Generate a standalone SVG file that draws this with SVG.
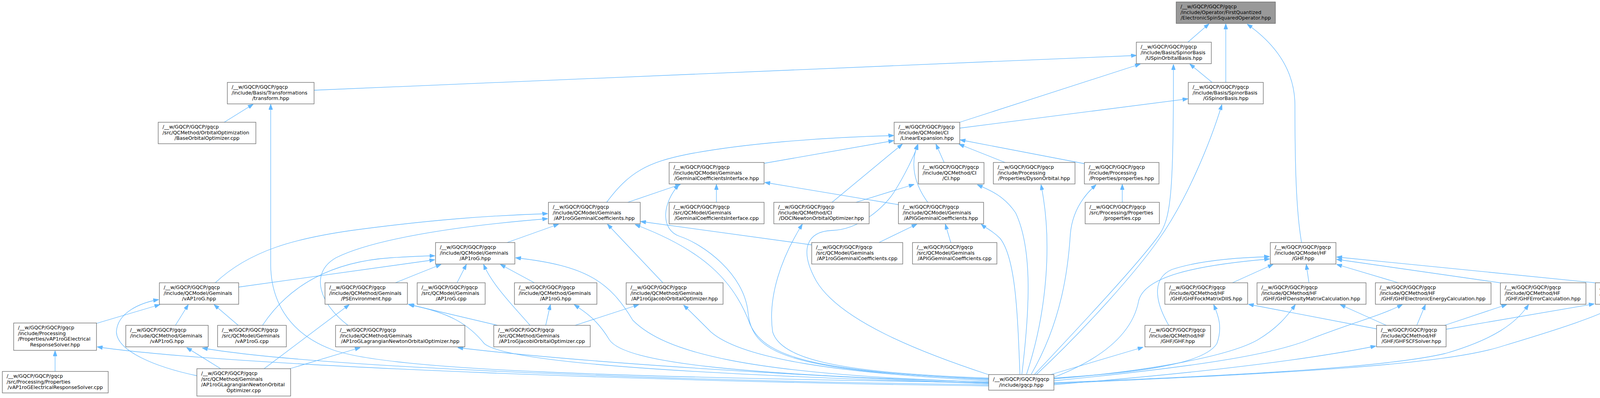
<svg xmlns="http://www.w3.org/2000/svg" width="4348" height="1019" viewBox="0 0 4348 1019">
<defs>
<style>
.nd rect{fill:#ffffff;stroke:#666666;stroke-width:1.3}
.root rect{fill:#999999;stroke:#666666;stroke-width:1.3}
text{font-family:"DejaVu Sans","Liberation Sans",sans-serif;font-size:12.7px;fill:#000000}
.c{text-anchor:middle}
#edges path{fill:none;stroke:#63b8ff;stroke-width:1.3;marker-end:url(#ah)}
</style>
<marker id="ah" viewBox="0 0 14 10" refX="13.5" refY="5" markerWidth="14" markerHeight="10" markerUnits="userSpaceOnUse" orient="auto">
<path d="M0,0 L14,5 L0,10 z" fill="#63b8ff" stroke="#63b8ff" stroke-width="1"/>
</marker>
</defs>
<rect x="0" y="0" width="4348" height="1019" fill="#ffffff"/>
<g id="edges">
<path d="M3041,108 L3095,61"/>
<path d="M3138,211 L3138,61"/>
<path d="M3332,621 C3318,540 3315,420 3315,270 C3315,190 3275,120 3193,62"/>
<path d="M804,231 L2909,142"/>
<path d="M574,313 L648,267"/>
<path d="M2457,313 L2919,164"/>
<path d="M3103,211 L3046,164"/>
<path d="M2648,959 C2760,840 2910,680 2965,605 C2998,560 3004,500 3004,165"/>
<path d="M2457,328 L3041,253"/>
<path d="M2653,959 C2780,840 2905,700 2965,615 C3040,510 3100,360 3128,268"/>
<path d="M1957,418 L2288,360"/>
<path d="M1553,518 C1610,440 1660,415 1760,395 C1900,368 2100,352 2288,347"/>
<path d="M1607,518 L1742,472"/>
<path d="M1834,518 L1834,472"/>
<path d="M2300,524 L1958,467"/>
<path d="M2531,970 C2000,950 1925,900 1915,800 C1905,700 1800,625 1740,605 C1690,588 1695,520 1738,473"/>
<path d="M2417,416 L2396,369"/>
<path d="M2573,416 L2455,369"/>
<path d="M2776,419 L2458,358"/>
<path d="M2130,518 L2310,369"/>
<path d="M2375,518 C2340,470 2330,420 2349,370"/>
<path d="M2533,960 C2350,900 2150,820 2090,720 C2045,640 2065,592 2130,590 C2200,588 2265,530 2290,490 C2315,450 2340,400 2350,370"/>
<path d="M2191,518 L2340,472"/>
<path d="M2616,958 C2635,800 2645,640 2600,545 C2570,500 2530,485 2502,473"/>
<path d="M2628,958 C2680,800 2695,620 2665,473"/>
<path d="M2640,958 C2720,820 2735,680 2740,600 C2745,540 2775,500 2806,473"/>
<path d="M2873,518 L2873,472"/>
<path d="M1298,621 L1430,574"/>
<path d="M2078,627 L1640,567"/>
<path d="M2250,621 L2347,574"/>
<path d="M2434,621 L2420,574"/>
<path d="M2611,958 C2605,800 2600,660 2560,610 C2540,590 2525,585 2512,574"/>
<path d="M2531,972 C2100,950 1960,920 1920,830 C1880,720 1800,640 1626,575"/>
<path d="M2531,968 C2150,955 2000,920 1978,850 C1965,760 2000,660 2054,574"/>
<path d="M551,724 C640,640 760,610 900,590 C1100,563 1250,552 1402,547"/>
<path d="M891,833 C820,780 790,700 860,660 C950,615 1150,580 1402,560"/>
<path d="M1697,724 L1555,574"/>
<path d="M1012,724 L1129,677"/>
<path d="M1170,724 L1194,677"/>
<path d="M1368,724 L1281,677"/>
<path d="M1357,833 C1320,790 1260,730 1238,677"/>
<path d="M611,735 L1113,665"/>
<path d="M672,833 C740,730 850,670 1000,660 C1050,657 1090,655 1113,655"/>
<path d="M2531,978 C1900,960 1700,900 1620,820 C1560,720 1500,680 1320,660"/>
<path d="M1274,833 L1045,779"/>
<path d="M2531,982 C1800,960 1300,930 1240,880 C1200,830 1150,800 1047,780"/>
<path d="M1397,833 L1409,780"/>
<path d="M2531,978 C1900,960 1600,930 1560,870 C1530,820 1500,800 1470,780"/>
<path d="M1472,833 L1635,780"/>
<path d="M2531,975 C2150,955 1900,920 1820,850 C1790,820 1770,800 1750,781"/>
<path d="M449,833 L482,780"/>
<path d="M610,833 L548,780"/>
<path d="M247,828 L409,780"/>
<path d="M504,962 C400,940 300,900 298,850 C300,800 360,775 406,767"/>
<path d="M141,951 L141,898"/>
<path d="M565,944 L478,890"/>
<path d="M676,944 L894,780"/>
<path d="M742,944 L922,890"/>
<path d="M2531,988 C1800,980 600,940 249,888"/>
<path d="M2531,985 C1700,975 800,940 518,891"/>
<path d="M2531,982 C2100,965 1500,930 1172,890"/>
<path d="M2531,980 C1600,965 1000,950 850,895 C730,850 694,760 693,680 L693,267"/>
<path d="M2690,959 L2926,889"/>
<path d="M2992,833 C2950,760 2955,710 3000,690 C3060,670 3150,660 3250,657"/>
<path d="M2698,966 C2830,915 2900,850 2915,770 C2930,710 3050,680 3250,663"/>
<path d="M3155,724 L3259,677"/>
<path d="M3351,724 L3344,677"/>
<path d="M3580,724 L3422,677"/>
<path d="M3840,724 L3422,664"/>
<path d="M4083,724 L3422,658"/>
<path d="M2698,968 C2900,955 3080,935 3115,880 C3130,840 3120,810 3107,780"/>
<path d="M2698,970 C2950,950 3150,910 3220,870 C3270,840 3295,810 3316,780"/>
<path d="M2698,975 C3050,940 3250,910 3350,870 C3450,830 3530,810 3590,780"/>
<path d="M2698,980 C3200,960 3550,940 3700,905 C3820,870 3880,830 3913,780"/>
<path d="M2698,982 C3300,955 3700,935 3850,885 C4000,840 4090,810 4145,780"/>
<path d="M2698,985 C3000,960 3300,930 3522,886"/>
<path d="M3524,842 L3196,779"/>
<path d="M3549,833 L3431,780"/>
<path d="M3627,833 L3649,780"/>
<path d="M3698,833 L3857,780"/>
<path d="M3702,843 L4081,778"/>
</g>
<g id="n0" class="root"><rect x="3011" y="5" width="254" height="55"/><text x="3022" y="21">/__w/GQCP/GQCP/gqcp</text><text x="3022" y="35.6">/include/Operator/FirstQuantized</text><text class="c" x="3138" y="50.2">/ElectronicSpinSquaredOperator.hpp</text></g>
<g id="n1" class="nd"><rect x="2909" y="108" width="192" height="55"/><text x="2920" y="124">/__w/GQCP/GQCP/gqcp</text><text x="2920" y="138.6">/include/Basis/SpinorBasis</text><text class="c" x="3005" y="153.2">/USpinOrbitalBasis.hpp</text></g>
<g id="n2" class="nd"><rect x="3042" y="211" width="192" height="55"/><text x="3053" y="227">/__w/GQCP/GQCP/gqcp</text><text x="3053" y="241.6">/include/Basis/SpinorBasis</text><text class="c" x="3138" y="256.2">/GSpinorBasis.hpp</text></g>
<g id="n3" class="nd"><rect x="582" y="211" width="222" height="55"/><text x="593" y="227">/__w/GQCP/GQCP/gqcp</text><text x="593" y="241.6">/include/Basis/Transformations</text><text class="c" x="693" y="256.2">/transform.hpp</text></g>
<g id="n4" class="nd"><rect x="405" y="313" width="250" height="55"/><text x="416" y="329">/__w/GQCP/GQCP/gqcp</text><text x="416" y="343.6">/src/QCMethod/OrbitalOptimization</text><text class="c" x="530" y="358.2">/BaseOrbitalOptimizer.cpp</text></g>
<g id="n5" class="nd"><rect x="2289" y="313" width="168" height="55"/><text x="2300" y="329">/__w/GQCP/GQCP/gqcp</text><text x="2300" y="343.6">/include/QCModel/CI</text><text class="c" x="2373" y="358.2">/LinearExpansion.hpp</text></g>
<g id="n6" class="nd"><rect x="1713" y="416" width="243" height="55"/><text x="1724" y="432">/__w/GQCP/GQCP/gqcp</text><text x="1724" y="446.6">/include/QCModel/Geminals</text><text class="c" x="1834.5" y="461.2">/GeminalCoefficientsInterface.hpp</text></g>
<g id="n7" class="nd"><rect x="2351" y="416" width="168" height="55"/><text x="2362" y="432">/__w/GQCP/GQCP/gqcp</text><text x="2362" y="446.6">/include/QCMethod/CI</text><text class="c" x="2435" y="461.2">/CI.hpp</text></g>
<g id="n8" class="nd"><rect x="2543" y="416" width="209" height="55"/><text x="2554" y="432">/__w/GQCP/GQCP/gqcp</text><text x="2554" y="446.6">/include/Processing</text><text class="c" x="2647.5" y="461.2">/Properties/DysonOrbital.hpp</text></g>
<g id="n9" class="nd"><rect x="2776" y="416" width="191" height="55"/><text x="2787" y="432">/__w/GQCP/GQCP/gqcp</text><text x="2787" y="446.6">/include/Processing</text><text class="c" x="2871.5" y="461.2">/Properties/properties.hpp</text></g>
<g id="n10" class="nd"><rect x="1404" y="518" width="235" height="55"/><text x="1415" y="534">/__w/GQCP/GQCP/gqcp</text><text x="1415" y="548.6">/include/QCModel/Geminals</text><text class="c" x="1521.5" y="563.2">/AP1roGGeminalCoefficients.hpp</text></g>
<g id="n11" class="nd"><rect x="1713" y="518" width="243" height="55"/><text x="1724" y="534">/__w/GQCP/GQCP/gqcp</text><text x="1724" y="548.6">/src/QCModel/Geminals</text><text class="c" x="1834.5" y="563.2">/GeminalCoefficientsInterface.cpp</text></g>
<g id="n12" class="nd"><rect x="1981" y="518" width="244" height="55"/><text x="1992" y="534">/__w/GQCP/GQCP/gqcp</text><text x="1992" y="548.6">/include/QCMethod/CI</text><text class="c" x="2103" y="563.2">/DOCINewtonOrbitalOptimizer.hpp</text></g>
<g id="n13" class="nd"><rect x="2300" y="518" width="218" height="55"/><text x="2311" y="534">/__w/GQCP/GQCP/gqcp</text><text x="2311" y="548.6">/include/QCModel/Geminals</text><text class="c" x="2409" y="563.2">/APIGGeminalCoefficients.hpp</text></g>
<g id="n14" class="nd"><rect x="2778" y="518" width="190" height="55"/><text x="2789" y="534">/__w/GQCP/GQCP/gqcp</text><text x="2789" y="548.6">/src/Processing/Properties</text><text class="c" x="2873" y="563.2">/properties.cpp</text></g>
<g id="n15" class="nd"><rect x="1115" y="621" width="203" height="55"/><text x="1126" y="637">/__w/GQCP/GQCP/gqcp</text><text x="1126" y="651.6">/include/QCModel/Geminals</text><text class="c" x="1216.5" y="666.2">/AP1roG.hpp</text></g>
<g id="n16" class="nd"><rect x="2078" y="621" width="233" height="55"/><text x="2089" y="637">/__w/GQCP/GQCP/gqcp</text><text x="2089" y="651.6">/src/QCModel/Geminals</text><text class="c" x="2194.5" y="666.2">/AP1roGGeminalCoefficients.cpp</text></g>
<g id="n17" class="nd"><rect x="2336" y="621" width="216" height="55"/><text x="2347" y="637">/__w/GQCP/GQCP/gqcp</text><text x="2347" y="651.6">/src/QCModel/Geminals</text><text class="c" x="2444" y="666.2">/APIGGeminalCoefficients.cpp</text></g>
<g id="n18" class="nd"><rect x="3252" y="621" width="168" height="55"/><text x="3263" y="637">/__w/GQCP/GQCP/gqcp</text><text x="3263" y="651.6">/include/QCModel/HF</text><text class="c" x="3336" y="666.2">/GHF.hpp</text></g>
<g id="n19" class="nd"><rect x="408" y="724" width="203" height="55"/><text x="419" y="740">/__w/GQCP/GQCP/gqcp</text><text x="419" y="754.6">/include/QCModel/Geminals</text><text class="c" x="509.5" y="769.2">/vAP1roG.hpp</text></g>
<g id="n20" class="nd"><rect x="832" y="724" width="211" height="55"/><text x="843" y="740">/__w/GQCP/GQCP/gqcp</text><text x="843" y="754.6">/include/QCMethod/Geminals</text><text class="c" x="937.5" y="769.2">/PSEnvironment.hpp</text></g>
<g id="n21" class="nd"><rect x="1068" y="724" width="174" height="55"/><text x="1079" y="740">/__w/GQCP/GQCP/gqcp</text><text x="1079" y="754.6">/src/QCModel/Geminals</text><text class="c" x="1155" y="769.2">/AP1roG.cpp</text></g>
<g id="n22" class="nd"><rect x="1317" y="724" width="211" height="55"/><text x="1328" y="740">/__w/GQCP/GQCP/gqcp</text><text x="1328" y="754.6">/include/QCMethod/Geminals</text><text class="c" x="1422.5" y="769.2">/AP1roG.hpp</text></g>
<g id="n23" class="nd"><rect x="1603" y="724" width="248" height="55"/><text x="1614" y="740">/__w/GQCP/GQCP/gqcp</text><text x="1614" y="754.6">/include/QCMethod/Geminals</text><text class="c" x="1727" y="769.2">/AP1roGJacobiOrbitalOptimizer.hpp</text></g>
<g id="n24" class="nd"><rect x="2982" y="724" width="212" height="55"/><text x="2993" y="740">/__w/GQCP/GQCP/gqcp</text><text x="2993" y="754.6">/include/QCMethod/HF</text><text class="c" x="3088" y="769.2">/GHF/GHFFockMatrixDIIS.hpp</text></g>
<g id="n25" class="nd"><rect x="3218" y="724" width="279" height="55"/><text x="3229" y="740">/__w/GQCP/GQCP/gqcp</text><text x="3229" y="754.6">/include/QCMethod/HF</text><text class="c" x="3357.5" y="769.2">/GHF/GHFDensityMatrixCalculation.hpp</text></g>
<g id="n26" class="nd"><rect x="3521" y="724" width="296" height="55"/><text x="3532" y="740">/__w/GQCP/GQCP/gqcp</text><text x="3532" y="754.6">/include/QCMethod/HF</text><text class="c" x="3669" y="769.2">/GHF/GHFElectronicEnergyCalculation.hpp</text></g>
<g id="n27" class="nd"><rect x="3841" y="724" width="219" height="55"/><text x="3852" y="740">/__w/GQCP/GQCP/gqcp</text><text x="3852" y="754.6">/include/QCMethod/HF</text><text class="c" x="3950.5" y="769.2">/GHF/GHFErrorCalculation.hpp</text></g>
<g id="n28" class="nd"><rect x="4084" y="724" width="258" height="55"/><text x="4095" y="740">/__w/GQCP/GQCP/gqcp</text><text x="4095" y="754.6">/include/QCMethod/HF</text><text class="c" x="4213" y="769.2">/GHF/GHFFockMatrixCalculation.hpp</text></g>
<g id="n29" class="nd"><rect x="35" y="827" width="212" height="70"/><text x="46" y="843">/__w/GQCP/GQCP/gqcp</text><text x="46" y="857.6">/include/Processing</text><text x="46" y="872.2">/Properties/vAP1roGElectrical</text><text class="c" x="141" y="886.8">ResponseSolver.hpp</text></g>
<g id="n30" class="nd"><rect x="322" y="833" width="211" height="55"/><text x="333" y="849">/__w/GQCP/GQCP/gqcp</text><text x="333" y="863.6">/include/QCMethod/Geminals</text><text class="c" x="427.5" y="878.2">/vAP1roG.hpp</text></g>
<g id="n31" class="nd"><rect x="557" y="833" width="176" height="55"/><text x="568" y="849">/__w/GQCP/GQCP/gqcp</text><text x="568" y="863.6">/src/QCModel/Geminals</text><text class="c" x="645" y="878.2">/vAP1roG.cpp</text></g>
<g id="n32" class="nd"><rect x="859" y="833" width="331" height="55"/><text x="870" y="849">/__w/GQCP/GQCP/gqcp</text><text x="870" y="863.6">/include/QCMethod/Geminals</text><text class="c" x="1024.5" y="878.2">/AP1roGLagrangianNewtonOrbitalOptimizer.hpp</text></g>
<g id="n33" class="nd"><rect x="1264" y="833" width="247" height="55"/><text x="1275" y="849">/__w/GQCP/GQCP/gqcp</text><text x="1275" y="863.6">/src/QCMethod/Geminals</text><text class="c" x="1387.5" y="878.2">/AP1roGJacobiOrbitalOptimizer.cpp</text></g>
<g id="n34" class="nd"><rect x="2931" y="833" width="168" height="55"/><text x="2942" y="849">/__w/GQCP/GQCP/gqcp</text><text x="2942" y="863.6">/include/QCMethod/HF</text><text class="c" x="3015" y="878.2">/GHF/GHF.hpp</text></g>
<g id="n35" class="nd"><rect x="3524" y="833" width="178" height="55"/><text x="3535" y="849">/__w/GQCP/GQCP/gqcp</text><text x="3535" y="863.6">/include/QCMethod/HF</text><text class="c" x="3613" y="878.2">/GHF/GHFSCFSolver.hpp</text></g>
<g id="n36" class="nd"><rect x="6" y="951" width="271" height="55"/><text x="17" y="967">/__w/GQCP/GQCP/gqcp</text><text x="17" y="981.6">/src/Processing/Properties</text><text class="c" x="141.5" y="996.2">/vAP1roGElectricalResponseSolver.cpp</text></g>
<g id="n37" class="nd"><rect x="504" y="944" width="240" height="70"/><text x="515" y="960">/__w/GQCP/GQCP/gqcp</text><text x="515" y="974.6">/src/QCMethod/Geminals</text><text x="515" y="989.2">/AP1roGLagrangianNewtonOrbital</text><text class="c" x="624" y="1003.8">Optimizer.cpp</text></g>
<g id="n38" class="nd"><rect x="2531" y="959" width="167" height="40"/><text x="2542" y="975">/__w/GQCP/GQCP/gqcp</text><text class="c" x="2614.5" y="989.6">/include/gqcp.hpp</text></g>
</svg>
